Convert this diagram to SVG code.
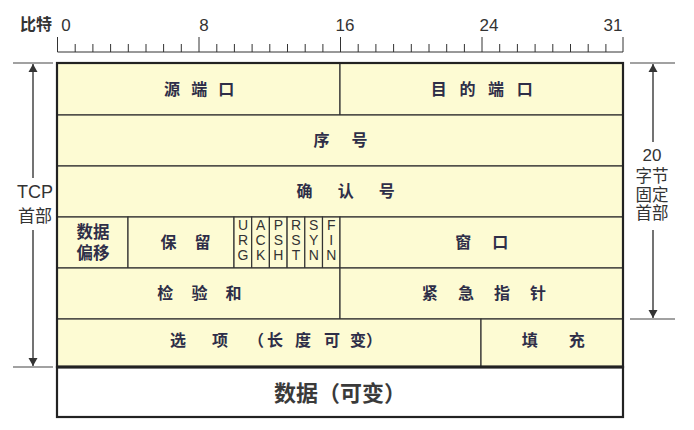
<svg xmlns="http://www.w3.org/2000/svg" width="694" height="430" viewBox="0 0 694 430">
<style>
.cell{fill:#FDFBD3;stroke:#333;stroke-width:1.2}
.lbl{font-family:"Noto Sans CJK SC","Liberation Sans",sans-serif;font-size:16px;font-weight:bold;fill:#2e2e48;text-anchor:middle}
.flag{font-family:"Liberation Sans","Noto Sans",sans-serif;font-size:14px;fill:#333;text-anchor:middle}
.side{font-family:"Liberation Sans","Noto Sans CJK SC",sans-serif;font-size:18px;fill:#333;text-anchor:middle}
.sidec{font-family:"Noto Sans CJK SC",sans-serif;font-size:16.5px;fill:#333;text-anchor:middle}
.num{font-family:"Liberation Sans",sans-serif;font-size:17px;fill:#333;text-anchor:middle}
.tick{stroke:#333;stroke-width:1}
.conn{stroke:#444;stroke-width:1.5;fill:none}
.ext{stroke:#444;stroke-width:1.2}
</style>
<defs>
<marker id="ah" markerUnits="userSpaceOnUse" markerWidth="8" markerHeight="12" viewBox="0 0 8 12" refX="8" refY="6" orient="auto">
<path d="M0,1.5 L8,6 L0,10.5 z" fill="#333"/>
</marker>
</defs>
<rect width="694" height="430" fill="#fff"/>

<g id="ruler">
<text x="36" y="30" class="sidec" style="font-size:16px;font-weight:bold">比特</text>
<text x="66" y="31" class="num">0</text>
<text x="204" y="31" class="num">8</text>
<text x="345" y="31" class="num">16</text>
<text x="489" y="31" class="num">24</text>
<text x="613" y="31" class="num">31</text>
<line x1="57.5" y1="52" x2="623" y2="52" class="tick"/>
<path class="tick" d="M57.5,37V52 M199,37V52 M340.5,37V52 M482,37V52 M623,37V52
M75.2,44V52 M92.9,44V52 M110.6,44V52 M128.3,44V52 M146,44V52 M163.6,44V52 M181.3,44V52
M216.8,44V52 M234.4,44V52 M252.1,44V52 M269.8,44V52 M287.5,44V52 M305.2,44V52 M322.9,44V52
M358.2,44V52 M375.9,44V52 M393.6,44V52 M411.3,44V52 M429,44V52 M446.7,44V52 M464.4,44V52
M499.7,44V52 M517.4,44V52 M535.1,44V52 M552.8,44V52 M570.5,44V52 M588.2,44V52 M605.9,44V52"/>
</g>

<g id="src-port"><rect class="cell" x="57" y="63" width="283" height="52"/><text class="lbl" x="201" y="95" style="letter-spacing:3.7px">源 端 口</text></g>
<g id="dst-port"><rect class="cell" x="340" y="63" width="283" height="52"/><text class="lbl" x="484" y="95" style="letter-spacing:4.5px">目 的 端 口</text></g>
<g id="seq"><rect class="cell" x="57" y="115" width="566" height="51"/><text class="lbl" x="345" y="146" style="letter-spacing:9.2px">序 号</text></g>
<g id="ack"><rect class="cell" x="57" y="166" width="566" height="51"/><text class="lbl" x="351" y="197" style="letter-spacing:10.7px">确 认 号</text></g>
<g id="offset"><rect class="cell" x="57" y="217" width="71" height="51"/><text class="lbl" style="font-size:16.5px"><tspan x="93" y="238">数据</tspan><tspan x="93" y="259">偏移</tspan></text></g>
<g id="reserved"><rect class="cell" x="128" y="217" width="106" height="51"/><text class="lbl" x="189" y="248" style="letter-spacing:7.2px">保 留</text></g>
<g id="urg"><rect class="cell" x="234" y="217" width="17.7" height="51"/><text class="flag"><tspan x="243" y="230">U</tspan><tspan x="243" y="245">R</tspan><tspan x="243" y="260">G</tspan></text></g>
<g id="ackf"><rect class="cell" x="251.7" y="217" width="17.7" height="51"/><text class="flag"><tspan x="260.6" y="230">A</tspan><tspan x="260.6" y="245">C</tspan><tspan x="260.6" y="260">K</tspan></text></g>
<g id="psh"><rect class="cell" x="269.4" y="217" width="17.7" height="51"/><text class="flag"><tspan x="278.3" y="230">P</tspan><tspan x="278.3" y="245">S</tspan><tspan x="278.3" y="260">H</tspan></text></g>
<g id="rst"><rect class="cell" x="287.1" y="217" width="17.7" height="51"/><text class="flag"><tspan x="296" y="230">R</tspan><tspan x="296" y="245">S</tspan><tspan x="296" y="260">T</tspan></text></g>
<g id="syn"><rect class="cell" x="304.8" y="217" width="17.7" height="51"/><text class="flag"><tspan x="313.7" y="230">S</tspan><tspan x="313.7" y="245">Y</tspan><tspan x="313.7" y="260">N</tspan></text></g>
<g id="fin"><rect class="cell" x="322.5" y="217" width="17.5" height="51"/><text class="flag"><tspan x="331.3" y="230">F</tspan><tspan x="331.3" y="245">I</tspan><tspan x="331.3" y="260">N</tspan></text></g>
<g id="window"><rect class="cell" x="340" y="217" width="283" height="51"/><text class="lbl" x="486" y="248" style="letter-spacing:8.7px">窗 口</text></g>
<g id="checksum"><rect class="cell" x="57" y="268" width="283" height="51"/><text class="lbl" x="203" y="299" style="letter-spacing:7.2px">检 验 和</text></g>
<g id="urgent"><rect class="cell" x="340" y="268" width="283" height="51"/><text class="lbl" x="488" y="299" style="letter-spacing:8.2px">紧 急 指 针</text></g>
<g id="options"><rect class="cell" x="57" y="319" width="424" height="48"/><text class="lbl" style="text-anchor:start" y="346" x="170 186 212 228 248 267 283 295 311 324 340 350 366">选 项 （长 度 可 变）</text></g>
<g id="padding"><rect class="cell" x="481" y="319" width="142" height="48"/><text class="lbl" x="560" y="346" style="letter-spacing:13.7px">填 充</text></g>
<g id="data"><rect x="57" y="367" width="566" height="50" fill="#fff" stroke="#222" stroke-width="2.2"/><text x="340" y="401" style="font-family:'Noto Sans CJK SC',sans-serif;font-size:22px;font-weight:bold;fill:#3a3a3a;text-anchor:middle">数据（可变）</text></g>
<rect x="57" y="63" width="566" height="304" fill="none" stroke="#222" stroke-width="2.2"/>
<line x1="57" y1="367" x2="623" y2="367" stroke="#222" stroke-width="3"/>

<g id="tcp-header-label">
<text class="sidec" style="font-size:17px"><tspan class="side" x="35" y="198">TCP</tspan><tspan x="35" y="221.5">首部</tspan></text>
</g>
<g id="fixed-header-label">
<text class="sidec"><tspan x="652" y="161" style="font-family:'Liberation Sans',sans-serif;font-size:17px">20</tspan><tspan x="652" y="182">字节</tspan><tspan x="652" y="200.5">固定</tspan><tspan x="652" y="219">首部</tspan></text>
</g>

<g id="connectors">
<line class="ext" x1="13" y1="63" x2="53" y2="63"/>
<line class="ext" x1="13" y1="367" x2="53" y2="367"/>
<line class="ext" x1="630" y1="63" x2="675" y2="63"/>
<line class="ext" x1="630" y1="319" x2="675" y2="319"/>
<line class="conn" x1="33" y1="178" x2="33" y2="64" marker-end="url(#ah)"/>
<line class="conn" x1="33" y1="230" x2="33" y2="366" marker-end="url(#ah)"/>
<line class="conn" x1="653" y1="142" x2="653" y2="64" marker-end="url(#ah)"/>
<line class="conn" x1="653" y1="230" x2="653" y2="318" marker-end="url(#ah)"/>
</g>
</svg>
